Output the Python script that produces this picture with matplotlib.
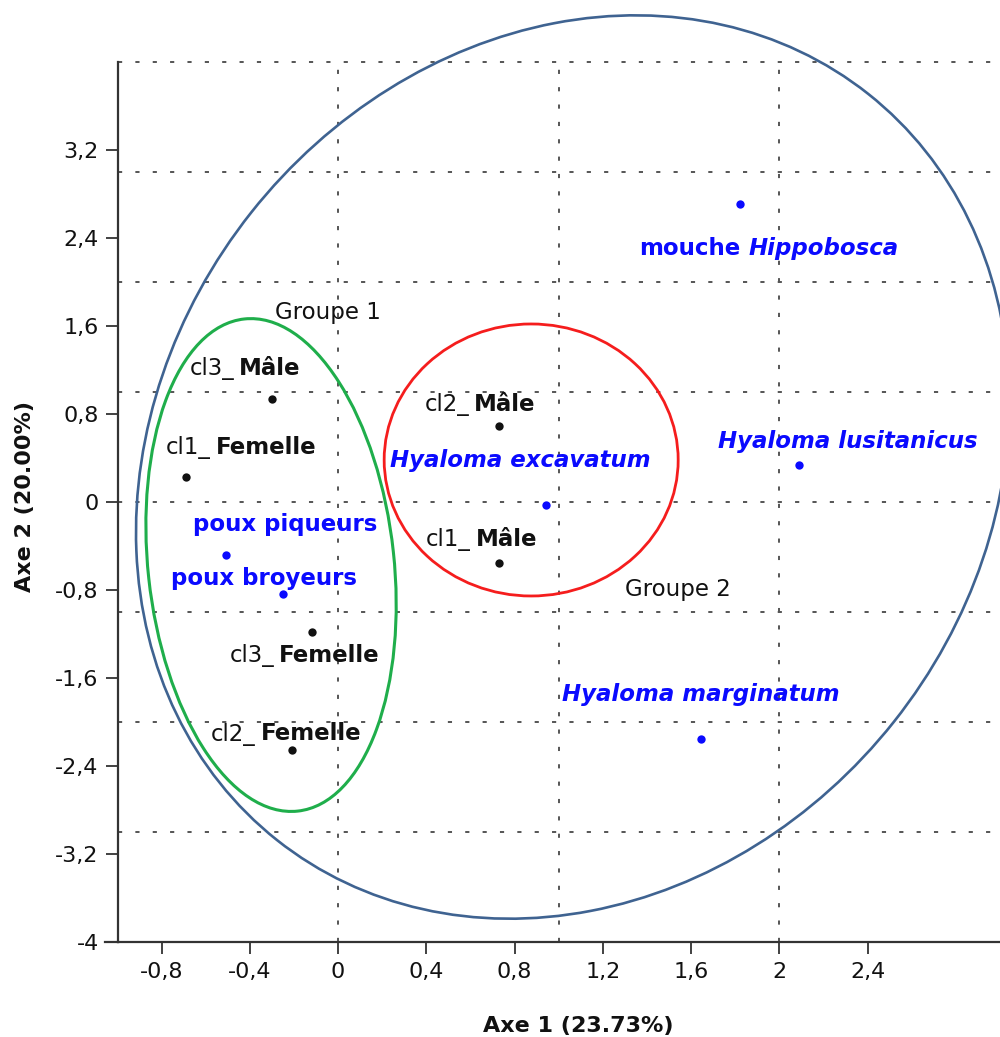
import matplotlib
matplotlib.use("Agg")
import matplotlib.pyplot as plt
import matplotlib.transforms as mtransforms
from matplotlib.patches import Ellipse
from matplotlib.ticker import FixedLocator, FuncFormatter

# ---------------- data ----------------
species_names = ["mouche Hippobosca", "Hyaloma lusitanicus", "Hyaloma excavatum",
                 "Hyaloma marginatum", "poux piqueurs", "poux broyeurs"]
species_x = [1.82, 2.09, 0.94, 1.645, -0.51, -0.25]
species_y = [2.71, 0.34, -0.025, -2.15, -0.48, -0.84]

class_prefix = ["cl3_", "cl1_", "cl2_", "cl1_", "cl3_", "cl2_"]
class_sex = ["Mâle", "Femelle", "Mâle", "Mâle", "Femelle", "Femelle"]
class_x = [-0.30, -0.69, 0.73, 0.73, -0.12, -0.21]
class_y = [0.94, 0.23, 0.69, -0.55, -1.185, -2.25]

x_ticks = [-0.8, -0.4, 0, 0.4, 0.8, 1.2, 1.6, 2, 2.4]
y_ticks = [-4, -3.2, -2.4, -1.6, -0.8, 0, 0.8, 1.6, 2.4, 3.2]
x_grid = [0, 1, 2]
y_grid = [-3, -2, -1, 0, 1, 2, 3, 4]
x_label = "Axe 1 (23.73%)"
y_label = "Axe 2 (20.00%)"

# ---------------- style ----------------
plt.rcParams["font.family"] = ["DejaVu Sans"]
plt.rcParams["lines.scale_dashes"] = False

W, H, DPI = 1000, 1037, 100
fig = plt.figure(figsize=(W / DPI, H / DPI), dpi=DPI)
ax = fig.add_axes([117.5 / W, (H - 942) / H, (W - 117.5) / W, 880 / H])
ax.set_xlim(-1, 3.0)
ax.set_ylim(-4, 4)

BLUE = "#0a0aff"
BLACK = "#111111"
AX_COL = "#333333"

# dotted grid at integers
grid_kw = dict(color="#555555", linestyle=(0, (3.0, 9.5)), linewidth=1.4, zorder=0.5)
for gx in x_grid:
    ax.axvline(gx, **grid_kw)
for gy in y_grid:
    ax.axhline(gy, clip_on=False, **grid_kw)

ax.xaxis.set_major_locator(FixedLocator(x_ticks))
ax.yaxis.set_major_locator(FixedLocator(y_ticks))
fmt = FuncFormatter(lambda v, p: "{:g}".format(round(v, 1)).replace(".", ","))
ax.xaxis.set_major_formatter(fmt)
ax.yaxis.set_major_formatter(fmt)
ax.tick_params(which="major", direction="out", length=8.5, width=1.3, color=AX_COL,
               labelsize=16, labelcolor=BLACK)
ax.tick_params(axis="x", pad=6)
ax.tick_params(axis="y", pad=5)

for s in ["top", "right"]:
    ax.spines[s].set_visible(False)
for s in ["left", "bottom"]:
    ax.spines[s].set_color(AX_COL)
    ax.spines[s].set_linewidth(1.6)
ax.plot([-0.014, 0], [0, 0], transform=ax.transAxes, clip_on=False, color=AX_COL, lw=1.6)


# ---------------- ellipses (sizes in pixels, centred in data coords) ----------------
def px_ellipse(cx, cy, w_px, h_px, angle, color, lw):
    tr = fig.dpi_scale_trans + mtransforms.ScaledTranslation(cx, cy, ax.transData)
    e = Ellipse((0, 0), w_px / DPI, h_px / DPI, angle=angle, transform=tr,
                fill=False, ec=color, lw=lw, clip_on=False, zorder=2)
    ax.add_patch(e)


px_ellipse(1.063, 0.318, 952, 820, 51.6, "#3f6391", 1.9)
px_ellipse(-0.304, -0.573, 246, 495, 6.2, "#1fae4b", 2.2)
px_ellipse(0.875, 0.382, 294, 272, 0, "#f51d1d", 2.0)

# ---------------- points ----------------
ax.scatter(class_x, class_y, s=36, color=BLACK, zorder=4, linewidths=0)
ax.scatter(species_x, species_y, s=36, color=BLUE, zorder=4, linewidths=0)

FS = 16.5
# label offsets (pixels, y up) relative to their point
class_offsets = [(-82.6, 24), (-20, 22.3), (-74.7, 15), (-73.3, 16.6), (-82, -30), (-80.6, 9)]
species_offsets = [(-100.7, -51), (-81.7, 16.7), (-155.7, 37.4), (-139, 37.6), (-32.7, 23.3), (-111.6, 9)]

for px, sx, x, y, off in zip(class_prefix, class_sex, class_x, class_y, class_offsets):
    t1 = ax.annotate(px, xy=(x, y), xytext=off, textcoords="offset pixels",
                     ha="left", va="baseline", fontsize=FS, color=BLACK, zorder=5)
    ax.annotate(sx, xy=(1, 0), xycoords=t1, xytext=(5, 0), textcoords="offset pixels",
                ha="left", va="bottom", fontsize=FS, fontweight="bold", color=BLACK, zorder=5)

for name, x, y, off in zip(species_names, species_x, species_y, species_offsets):
    if name.startswith("Hyaloma"):
        ax.annotate(name, xy=(x, y), xytext=off, textcoords="offset pixels",
                    ha="left", va="baseline", fontsize=FS, fontweight="bold",
                    fontstyle="italic", color=BLUE, zorder=5)
    elif name.startswith("mouche"):
        first, second = name.split(" ", 1)
        t1 = ax.annotate(first, xy=(x, y), xytext=off, textcoords="offset pixels",
                         ha="left", va="baseline", fontsize=FS, fontweight="bold",
                         color=BLUE, zorder=5)
        ax.annotate(second, xy=(1, 0), xycoords=t1, xytext=(8, 0), textcoords="offset pixels",
                    ha="left", va="bottom", fontsize=FS, fontweight="bold",
                    fontstyle="italic", color=BLUE, zorder=5)
    else:
        ax.annotate(name, xy=(x, y), xytext=off, textcoords="offset pixels",
                    ha="left", va="baseline", fontsize=FS, fontweight="bold",
                    color=BLUE, zorder=5)

# group labels
ax.text(-0.286, 1.664, "Groupe 1", ha="left", va="baseline", fontsize=FS, color=BLACK, zorder=5)
ax.text(1.302, -0.852, "Groupe 2", ha="left", va="baseline", fontsize=FS, color=BLACK, zorder=5)

# axis labels
fig.text(578 / W, (H - 1032) / H, x_label, ha="center", va="baseline",
         fontsize=16, fontweight="bold", color=BLACK)
fig.text(25 / W, 1 - 496 / H, y_label, ha="center", va="center", rotation=90,
         fontsize=16, fontweight="bold", color=BLACK)

fig.savefig("out.png", dpi=DPI)
